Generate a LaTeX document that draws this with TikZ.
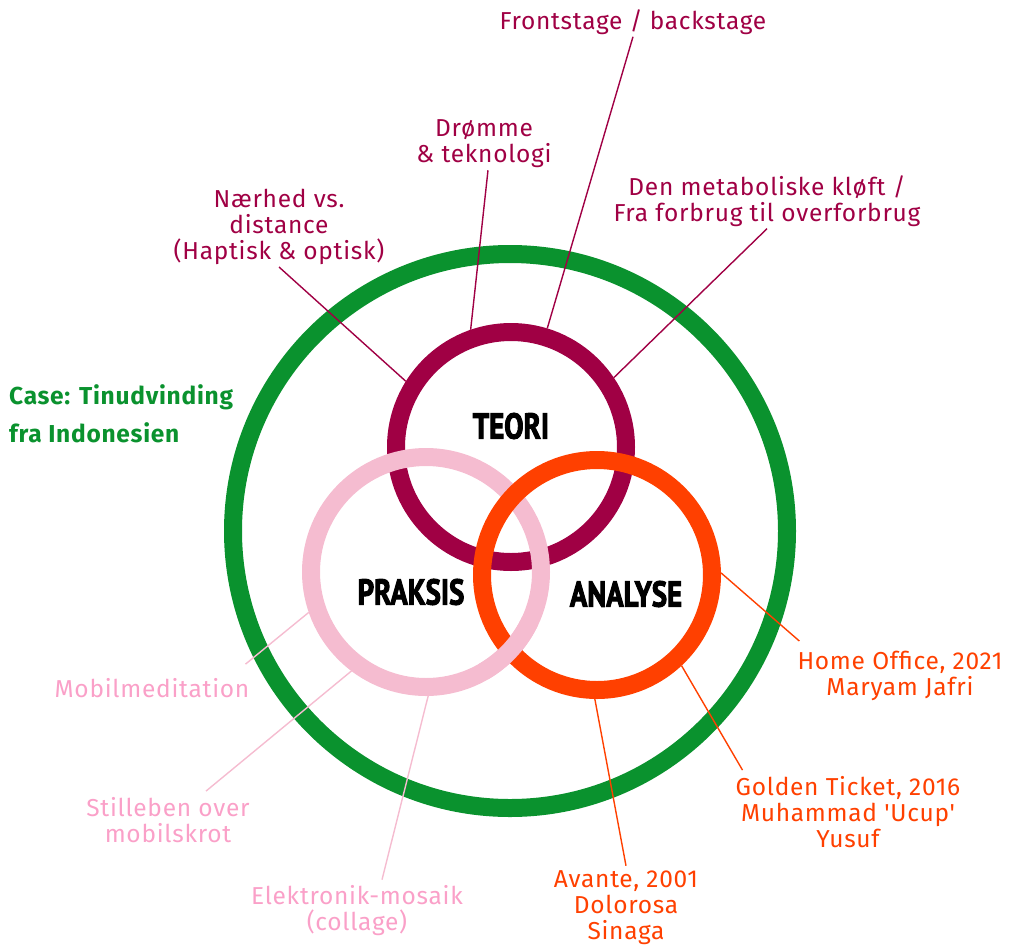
\documentclass[tikz,border=0pt]{standalone}
\usepackage{fontspec}
\setmainfont{Fira Sans}[Ligatures=TeXOff,LetterSpace=3]
\newfontfamily\ringfont{PT Sans}[Ligatures=TeXOff,FakeStretch=0.8,BoldFeatures={FakeBold=2.6}]
\usetikzlibrary{calc,positioning}

\definecolor{casegreen}{RGB}{10,146,46}
\definecolor{teoricol}{RGB}{160,0,68}
\definecolor{praksiscol}{RGB}{245,188,208}
\definecolor{praksistext}{RGB}{250,160,200}
\definecolor{analysecol}{RGB}{255,64,0}

\begin{document}
\begin{tikzpicture}[x=1pt,y=1pt]
	\tikzstyle{every node}=[align=center,inner sep=2pt,font=\fontsize{24.5}{26}\selectfont]
	\tikzstyle{ring}=[draw,circle,line width=18pt,minimum size=230pt,inner sep=0pt]
	\tikzstyle{title}=[font=\ringfont\bfseries\fontsize{36}{38}\selectfont]
	\tikzstyle{l}=[draw,line width=1.4pt]
	\useasboundingbox (0,0) rectangle (1018,-946);

	%% Outer case ring
	\node [ring,draw=casegreen,minimum size=554pt] (case) at (510,-531) {};
	\node [anchor=west,align=left,text=casegreen,font=\bfseries\fontsize{24.5}{38}\selectfont] (casetxt) at (7,-414) {Case: Tinudvinding\\fra Indonesien};

	%% The three rings
	\node [ring,draw=teoricol] (teori) at (511,-447) {};
	\node [ring,draw=praksiscol] (praksis) at (426,-572) {};
	\node [ring,draw=analysecol] (analyse) at (597,-575) {};
	%% pink lies over orange at the lower crossing
	\draw [line width=18pt,praksiscol] (praksis.center) ++(-60:115) arc[start angle=-60,end angle=-25,radius=115];

	\node [title] (teorit) at (511,-426) {TEORI};
	\node [title] (praksist) at (411,-592) {PRAKSIS};
	\node [title] (analyset) at (626,-594) {ANALYSE};

	%% Teori labels
	\node [text=teoricol] (front) at (633,-22) {Frontstage / backstage};
	\node [text=teoricol] (droem) at (484,-144) {Drømme\\\& teknologi};
	\node [text=teoricol] (naer) at (279,-227) {Nærhed vs.\\distance\\(Haptisk \& optisk)};
	\node [text=teoricol] (meta) at (767,-201) {Den metaboliske kløft /\\Fra forbrug til overforbrug};

	%% Praksis labels
	\node [text=praksistext] (mobil) at (152,-688) {Mobilmeditation};
	\node [text=praksistext] (still) at (168,-820) {Stilleben over\\mobilskrot};
	\node [text=praksistext] (elek) at (357,-911) {Elektronik-mosaik\\(collage)};

	%% Analyse labels
	\node [text=analysecol] (home) at (900,-676) {Home Office, 2021\\Maryam Jafri};
	\node [text=analysecol] (gold) at (848,-812) {Golden Ticket, 2016\\Muhammad 'Ucup'\\Yusuf};
	\node [text=analysecol] (avan) at (626,-908) {Avante, 2001\\Dolorosa\\Sinaga};

	%% Connectors
	\path [l,teoricol] (front.south) -- (teori.73.6);
	\path [l,teoricol] ([xshift=4pt]droem.south) -- (teori.109.7);
	\path [l,teoricol] (naer.south) -- (teori.148.5);
	\path [l,teoricol] (meta.south) -- (teori.34.8);

	\path [l,praksiscol] ([shift={(-6pt,12pt)}]mobil.north east) -- (praksis.199.7);
	\path [l,praksiscol] ([shift={(38pt,4pt)}]still.north) -- (praksis.233.9);
	\path [l,praksiscol] ([shift={(25pt,4pt)}]elek.north) -- (praksis.271.4);

	\path [l,analysecol] ([shift={(4pt,8pt)}]home.north west) -- (analyse.1);
	\path [l,analysecol] ([shift={(9pt,4pt)}]gold.north west) -- (analyse.-47.6);
	\path [l,analysecol] ([yshift=3pt]avan.north) -- (analyse.269.5);
\end{tikzpicture}
\end{document}
